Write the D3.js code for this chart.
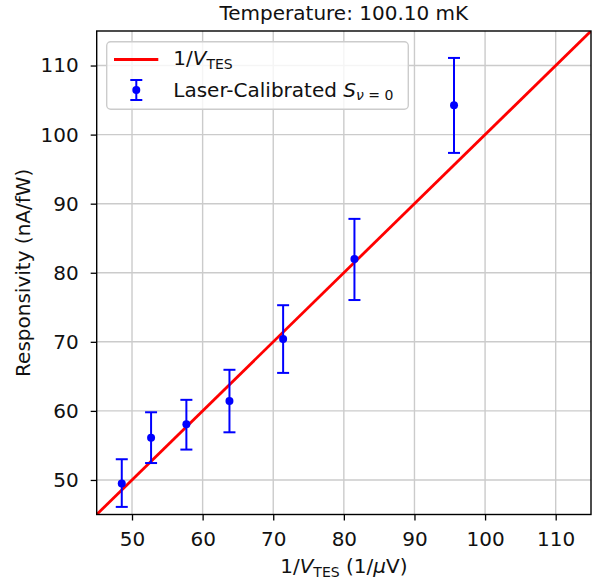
<!DOCTYPE html>
<html>
<head>
<meta charset="utf-8">
<script src="https://cdn.jsdelivr.net/npm/d3@7"></script>
<style>
  html, body { margin: 0; padding: 0; background: #fff; }
  svg { display: block; font-family: "DejaVu Sans", sans-serif; }
</style>
</head>
<body>
<svg id="chart" width="601" height="579"></svg>
<script>
// ---- data ----
const invV   = [48.55, 52.7, 57.7, 63.8, 71.4, 81.5, 95.6];
const resp   = [49.5, 56.1, 58.05, 61.45, 70.4, 82.0, 104.25];
const errLow = [3.4, 3.65, 3.65, 4.55, 4.9, 5.95, 6.9];
const errHigh= [3.5, 3.7, 3.55, 4.5, 4.9, 5.8, 6.85];
const xTicks = [50, 60, 70, 80, 90, 100, 110];
const yTicks = [50, 60, 70, 80, 90, 100, 110];
const lineDomain = [45, 115];
const titleText = "Temperature: 100.10 mK";
const yLabel = "Responsivity (nA/fW)";

const svg = d3.select("#chart");
const m = { left: 96.7, right: 591, top: 31, bottom: 514.5 };
const x = d3.scaleLinear().domain([45, 115]).range([m.left, m.right]);
const y = d3.scaleLinear().domain([45, 115]).range([m.bottom, m.top]);
const FS = 20;
const SUB = FS * 0.7;
const TXT = "#111";

// grid
const g = svg.append("g");
g.selectAll(".gx").data(xTicks).enter().append("line")
  .attr("x1", d => x(d)).attr("x2", d => x(d))
  .attr("y1", m.top).attr("y2", m.bottom)
  .attr("stroke", "#cbcbcb").attr("stroke-width", 1.4);
g.selectAll(".gy").data(yTicks).enter().append("line")
  .attr("y1", d => y(d)).attr("y2", d => y(d))
  .attr("x1", m.left).attr("x2", m.right)
  .attr("stroke", "#cbcbcb").attr("stroke-width", 1.4);

// axes
const xAxis = d3.axisBottom(x).tickValues(xTicks).tickSize(6).tickPadding(6).tickFormat(d3.format("d"));
const yAxis = d3.axisLeft(y).tickValues(yTicks).tickSize(6).tickPadding(12).tickFormat(d3.format("d"));
const gx = svg.append("g").attr("transform", `translate(0,${m.bottom})`).call(xAxis);
const gy = svg.append("g").attr("transform", `translate(${m.left},0)`).call(yAxis);
[gx, gy].forEach(a => {
  a.select(".domain").remove();
  a.selectAll(".tick line").attr("stroke", "#000").attr("stroke-width", 1.3);
  a.selectAll(".tick text").attr("font-size", FS).attr("fill", TXT).attr("font-family", "DejaVu Sans");
});
gx.selectAll(".tick text").attr("dy", null).attr("y", 546 - m.bottom);

// clip
svg.append("clipPath").attr("id", "clip").append("rect")
  .attr("x", m.left).attr("y", m.top).attr("width", m.right - m.left).attr("height", m.bottom - m.top);

// red line y = x
const line = d3.line().x(d => x(d)).y(d => y(d));
svg.append("path").datum(lineDomain).attr("d", line)
  .attr("clip-path", "url(#clip)")
  .attr("stroke", "#ff0000").attr("stroke-width", 2.8).attr("fill", "none");

// error bars
const pts = invV.map((v, i) => ({ x: v, y: resp[i], lo: resp[i] - errLow[i], hi: resp[i] + errHigh[i] }));
const eb = svg.append("g").attr("stroke", "#0000ff").attr("stroke-width", 2);
eb.selectAll(".v").data(pts).enter().append("line")
  .attr("x1", d => x(d.x)).attr("x2", d => x(d.x))
  .attr("y1", d => y(d.lo)).attr("y2", d => y(d.hi));
eb.selectAll(".ct").data(pts).enter().append("line")
  .attr("x1", d => x(d.x) - 6).attr("x2", d => x(d.x) + 6)
  .attr("y1", d => y(d.hi)).attr("y2", d => y(d.hi));
eb.selectAll(".cb").data(pts).enter().append("line")
  .attr("x1", d => x(d.x) - 6).attr("x2", d => x(d.x) + 6)
  .attr("y1", d => y(d.lo)).attr("y2", d => y(d.lo));
svg.append("g").selectAll("circle").data(pts).enter().append("circle")
  .attr("cx", d => x(d.x)).attr("cy", d => y(d.y)).attr("r", 4)
  .attr("fill", "#0000ff");

// frame
svg.append("rect").attr("x", m.left).attr("y", m.top)
  .attr("width", m.right - m.left).attr("height", m.bottom - m.top)
  .attr("fill", "none").attr("stroke", "#000").attr("stroke-width", 1.4);

// title
svg.append("text").attr("x", (m.left + m.right) / 2).attr("y", 20)
  .attr("text-anchor", "middle").attr("font-size", FS).attr("fill", TXT).text(titleText);

// x label
const xl = svg.append("text").attr("x", (m.left + m.right) / 2).attr("y", 573)
  .attr("text-anchor", "middle").attr("font-size", FS).attr("fill", TXT);
xl.append("tspan").text("1/");
xl.append("tspan").attr("font-style", "italic").text("V");
xl.append("tspan").attr("font-size", SUB).attr("dy", 3.5).text("TES");
xl.append("tspan").attr("dy", -3.5).text(" (1/");
xl.append("tspan").attr("font-style", "italic").text("μ");
xl.append("tspan").text("V)");

// y label
svg.append("text").attr("transform", `translate(30,${(m.top + m.bottom) / 2}) rotate(-90)`)
  .attr("text-anchor", "middle").attr("font-size", FS).attr("fill", TXT).text(yLabel);

// legend
const lg = svg.append("g");
lg.append("rect").attr("x", 106.7).attr("y", 41.7).attr("width", 301.6).attr("height", 67.6)
  .attr("rx", 4).attr("fill", "#fff").attr("fill-opacity", 0.8)
  .attr("stroke", "#cccccc").attr("stroke-width", 1.4);
lg.append("line").attr("x1", 114).attr("x2", 158.3).attr("y1", 59.5).attr("y2", 59.5)
  .attr("stroke", "#ff0000").attr("stroke-width", 2.8);
const t1 = lg.append("text").attr("x", 173.3).attr("y", 65.2).attr("font-size", FS).attr("fill", TXT);
t1.append("tspan").text("1/");
t1.append("tspan").attr("font-style", "italic").text("V");
t1.append("tspan").attr("font-size", SUB).attr("dy", 3.5).text("TES");
const lgx = 136.3, lgy = 90;
lg.append("line").attr("x1", lgx).attr("x2", lgx).attr("y1", lgy - 10).attr("y2", lgy + 10)
  .attr("stroke", "#0000ff").attr("stroke-width", 2);
lg.append("line").attr("x1", lgx - 6).attr("x2", lgx + 6).attr("y1", lgy - 10).attr("y2", lgy - 10)
  .attr("stroke", "#0000ff").attr("stroke-width", 2);
lg.append("line").attr("x1", lgx - 6).attr("x2", lgx + 6).attr("y1", lgy + 10).attr("y2", lgy + 10)
  .attr("stroke", "#0000ff").attr("stroke-width", 2);
lg.append("circle").attr("cx", lgx).attr("cy", lgy).attr("r", 4).attr("fill", "#0000ff");
const t2 = lg.append("text").attr("x", 173.3).attr("y", 96.5).attr("font-size", FS).attr("fill", TXT);
t2.append("tspan").text("Laser-Calibrated ");
t2.append("tspan").attr("font-style", "italic").text("S");
t2.append("tspan").attr("font-size", SUB).attr("dy", 3).attr("font-style", "italic").text("ν");
t2.append("tspan").attr("font-size", SUB).text(" = 0");
</script>
</body>
</html>
